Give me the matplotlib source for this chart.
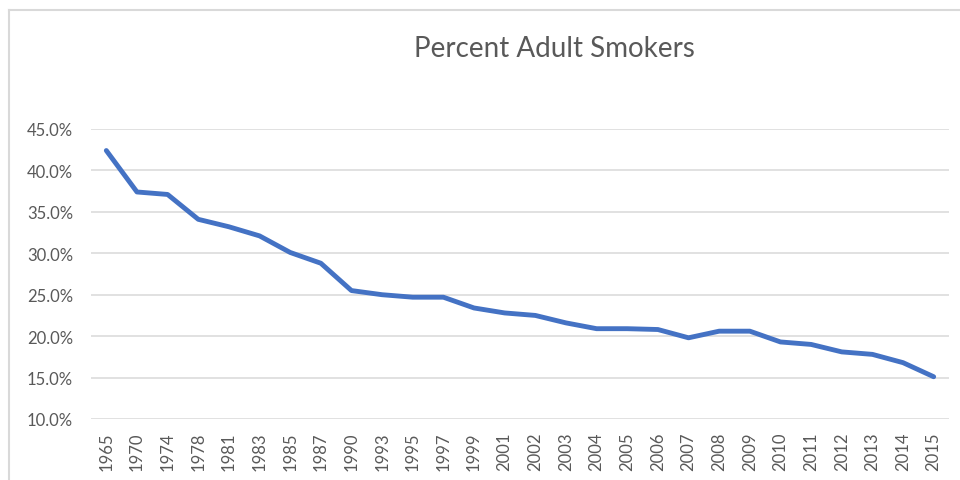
import numpy as np
import matplotlib as mpl
mpl.use("Agg")
import matplotlib.pyplot as plt
from matplotlib.ticker import FuncFormatter, MultipleLocator
from matplotlib.lines import Line2D

years = ["1965", "1970", "1974", "1978", "1981", "1983", "1985", "1987",
         "1990", "1993", "1995", "1997", "1999", "2001", "2002", "2003",
         "2004", "2005", "2006", "2007", "2008", "2009", "2010", "2011",
         "2012", "2013", "2014", "2015"]
smokers = [42.4, 37.4, 37.1, 34.1, 33.2, 32.1, 30.1, 28.8,
           25.5, 25.0, 24.7, 24.7, 23.4, 22.8, 22.5, 21.6,
           20.9, 20.9, 20.8, 19.8, 20.6, 20.6, 19.3, 19.0,
           18.1, 17.8, 16.8, 15.1]

plt.rcParams['font.family'] = ['Lato', 'DejaVu Sans']

W, H = 960, 481
fig = plt.figure(figsize=(W / 100, H / 100), dpi=100)
ax = fig.add_axes([91 / W, 1 - 420 / H, (949 - 91) / W, (420 - 130) / H])

x = np.arange(len(years))
ax.plot(x, smokers, color='#4472C4', linewidth=3.5, solid_capstyle='round',
        solid_joinstyle='round', zorder=3)

ax.set_xlim(-0.5, len(years) - 0.5)
ax.set_ylim(10, 45)
ax.yaxis.set_major_locator(MultipleLocator(5))
ax.yaxis.set_major_formatter(FuncFormatter(lambda v, p: f"{v:.1f}%"))
ax.set_xticks(x)
ax.set_xticklabels(years, rotation=90)

ax.grid(axis='y', color='#D9D9D9', linewidth=1.1)
ax.set_axisbelow(True)
for s in ax.spines.values():
    s.set_visible(False)
ax.tick_params(axis='y', length=0, pad=13, labelsize=12, labelcolor='#595959')
ax.tick_params(axis='x', length=0, pad=9, labelsize=12, labelcolor='#595959')

fig.text(554 / W, 1 - 57 / H, "Percent Adult Smokers", ha='center', va='baseline',
         fontsize=20, color='#595959')

# chart area border (cropped on right and bottom)
fig.add_artist(Line2D([8.5 / W, 1], [1 - 10.5 / H, 1 - 10.5 / H],
                      transform=fig.transFigure, color='#D9D9D9', linewidth=1.5))
fig.add_artist(Line2D([8.5 / W, 8.5 / W], [0, 1 - 10.5 / H],
                      transform=fig.transFigure, color='#D9D9D9', linewidth=1.5))

fig.savefig("out.png", dpi=100)
